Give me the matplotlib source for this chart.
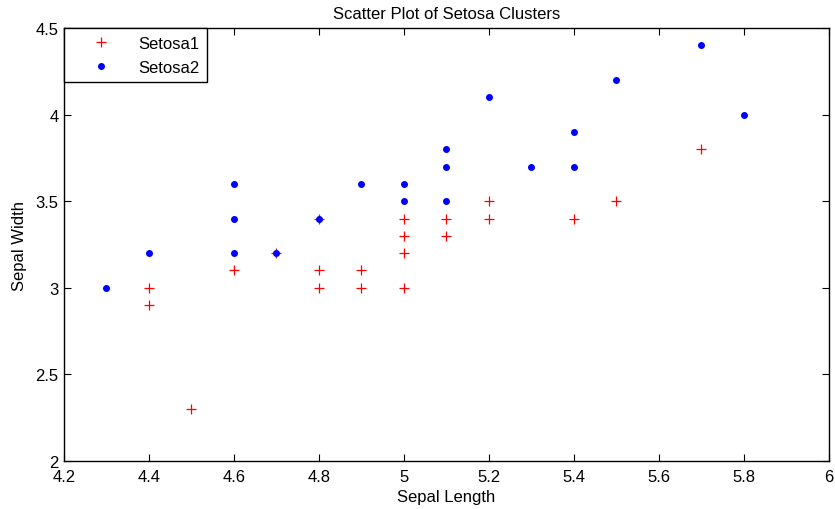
import matplotlib.pyplot as plt

plt.rcParams['font.family'] = ['Liberation Sans', 'DejaVu Sans']

# Setosa1 (red plus)
setosa1_x = [4.4, 4.4, 4.5, 4.6, 4.7, 4.8, 4.8, 4.8, 4.9, 4.9, 5.0, 5.0, 5.0, 5.0,
             5.1, 5.1, 5.2, 5.2, 5.4, 5.5, 5.7]
setosa1_y = [3.0, 2.9, 2.3, 3.1, 3.2, 3.4, 3.1, 3.0, 3.1, 3.0, 3.4, 3.3, 3.2, 3.0,
             3.4, 3.3, 3.5, 3.4, 3.4, 3.5, 3.8]

# Setosa2 (blue dots)
setosa2_x = [4.3, 4.4, 4.6, 4.6, 4.6, 4.7, 4.8, 4.9, 5.0, 5.0, 5.1, 5.1, 5.1,
             5.2, 5.3, 5.4, 5.4, 5.5, 5.7, 5.8]
setosa2_y = [3.0, 3.2, 3.2, 3.4, 3.6, 3.2, 3.4, 3.6, 3.5, 3.6, 3.5, 3.7, 3.8,
             4.1, 3.7, 3.7, 3.9, 4.2, 4.4, 4.0]

xticks = [4.2, 4.4, 4.6, 4.8, 5, 5.2, 5.4, 5.6, 5.8, 6]
xticklabels = ['4.2', '4.4', '4.6', '4.8', '5', '5.2', '5.4', '5.6', '5.8', '6']
yticks = [2, 2.5, 3, 3.5, 4, 4.5]
yticklabels = ['2', '2.5', '3', '3.5', '4', '4.5']

fig = plt.figure(figsize=(8.35, 5.1), dpi=100)
ax = fig.add_axes([0.0766, 0.0941, 0.9162, 0.849])

ax.plot(setosa1_x, setosa1_y, '+', color='red', markersize=7, markeredgewidth=0.9,
        linestyle='none', label='Setosa1')
ax.plot(setosa2_x, setosa2_y, '.', color='blue', markersize=8,
        linestyle='none', label='Setosa2')

ax.set_xlim(4.2, 6)
ax.set_ylim(2, 4.5)
ax.set_xticks(xticks)
ax.set_xticklabels(xticklabels)
ax.set_yticks(yticks)
ax.set_yticklabels(yticklabels)
ax.tick_params(direction='in', top=True, right=True, length=5, width=0.8,
               labelsize=12)
ax.tick_params(axis='x', pad=6)
ax.tick_params(axis='y', pad=4)
for s in ax.spines.values():
    s.set_linewidth(1.0)

ax.set_xlabel('Sepal Length', fontsize=12, labelpad=3)
ax.set_ylabel('Sepal Width', fontsize=12, labelpad=6)
ax.set_title('Scatter Plot of Setosa Clusters', fontsize=12, pad=7)

leg = ax.legend(loc='upper left', fontsize=12, fancybox=False, framealpha=1,
                edgecolor='black', borderaxespad=0, handletextpad=0.5,
                borderpad=0.45, labelspacing=0.55, handlelength=3.5)
leg.get_frame().set_linewidth(1.0)

fig.savefig('out.png', dpi=100)
